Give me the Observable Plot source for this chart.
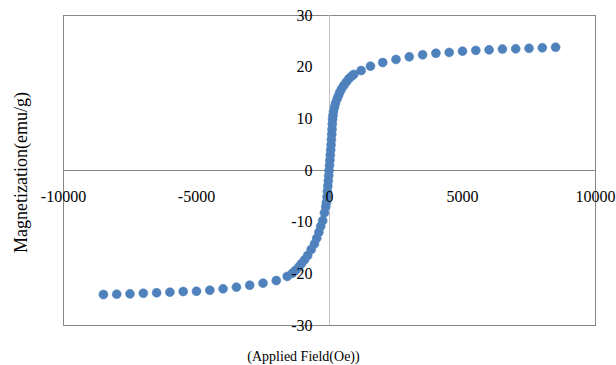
<!DOCTYPE html>
<html>
<head>
<meta charset="utf-8">
<script src="https://cdn.jsdelivr.net/npm/d3@7"></script>
<script src="https://cdn.jsdelivr.net/npm/@observablehq/plot@0.6"></script>
<style>
  html, body { margin: 0; padding: 0; background: #fff; }
  #chart { width: 616px; height: 365px; }
  #chart svg text { font-family: "Liberation Serif", "Times New Roman", serif; }
</style>
</head>
<body>
<div id="chart"></div>
<script>
// Applied field (Oe)
const field = [
  -8500, -8000, -7500, -7000, -6500, -6000, -5500, -5000, -4500, -4000, -3500, -3000, -2500, -2000,
  -1590, -1400, -1280, -1160, -1060, -940, -820, -690, -565, -480, -400, -330, -255, -190,
  -140, -115, -95, -80, -62, -45, -30, -15, 0, 15, 30, 45, 60, 72, 85, 95, 105, 115,
  130, 150, 188, 226, 289, 338, 387, 451, 538, 628, 725, 827, 913, 1190, 1540,
  2000, 2500, 3000, 3500, 4000, 4500, 5000, 5500, 6000, 6500, 7000, 7500, 8000, 8500
];
// Magnetization (emu/g)
const magnetization = [
  -24.0, -23.94, -23.87, -23.75, -23.67, -23.55, -23.42, -23.36, -23.17, -22.9, -22.58, -22.2, -21.8, -21.3,
  -20.5, -19.9, -19.35, -18.7, -18.05, -17.3, -16.45, -15.3, -14.2, -13.1, -11.95, -10.8, -9.7, -8.2,
  -7.0, -6.2, -5.1, -4.0, -3.0, -2.0, -1.0, 0.0, 1.0, 2.0, 3.0, 4.0, 5.0, 6.0, 7.0, 8.0, 9.0, 9.9,
  10.6, 11.4, 12.25, 13.05, 13.9, 14.5, 15.15, 15.8, 16.45, 17.1, 17.75, 18.25, 18.6, 19.35, 20.2,
  20.9, 21.5, 22.0, 22.4, 22.7, 22.85, 23.1, 23.25, 23.35, 23.5, 23.55, 23.65, 23.75, 23.85
];
const xTicks = [-10000, -5000, 0, 5000, 10000];
const yTicks = [-30, -20, -10, 0, 10, 20, 30];
const xTitle = "(Applied Field(Oe))";
const yTitle = "Magnetization(emu/g)";

const data = field.map((h, i) => ({h, m: magnetization[i]}));
const serif = "Liberation Serif, Times New Roman, serif";

const chart = Plot.plot({
  width: 616,
  height: 365,
  marginLeft: 63,
  marginRight: 21,
  marginTop: 15,
  marginBottom: 40,
  style: {color: "#000", background: "#fff"},
  x: {domain: [-10000, 10000], axis: null},
  y: {domain: [-30, 30], axis: null},
  marks: [
    Plot.frame({stroke: "#868686"}),
    Plot.ruleX([0], {stroke: "#c4c4c4"}),
    Plot.ruleY([0], {stroke: "#868686"}),
    Plot.dot(data, {x: "h", y: "m", r: 4.5, fill: "#4F81BD", stroke: "#4F81BD", strokeWidth: 0.5}),
    Plot.text(yTicks, {x: 0, y: d => d, text: d => String(d), dx: -17, textAnchor: "end", fontSize: 16, fontFamily: serif, fill: "#000"}),
    Plot.text(xTicks, {x: d => d, y: 0, text: d => String(d), dy: 26, textAnchor: "middle", fontSize: 16, fontFamily: serif, fill: "#000"}),
    Plot.text([yTitle], {frameAnchor: "left", dx: -42, dy: 2, rotate: -90, textAnchor: "middle", lineAnchor: "middle", fontSize: 18, fontFamily: serif, fill: "#000"}),
    Plot.text([xTitle], {frameAnchor: "bottom", dx: -26, dy: 31, textAnchor: "middle", lineAnchor: "middle", fontSize: 14, fontFamily: serif, fill: "#000"})
  ]
});
document.getElementById("chart").appendChild(chart);
</script>
</body>
</html>
